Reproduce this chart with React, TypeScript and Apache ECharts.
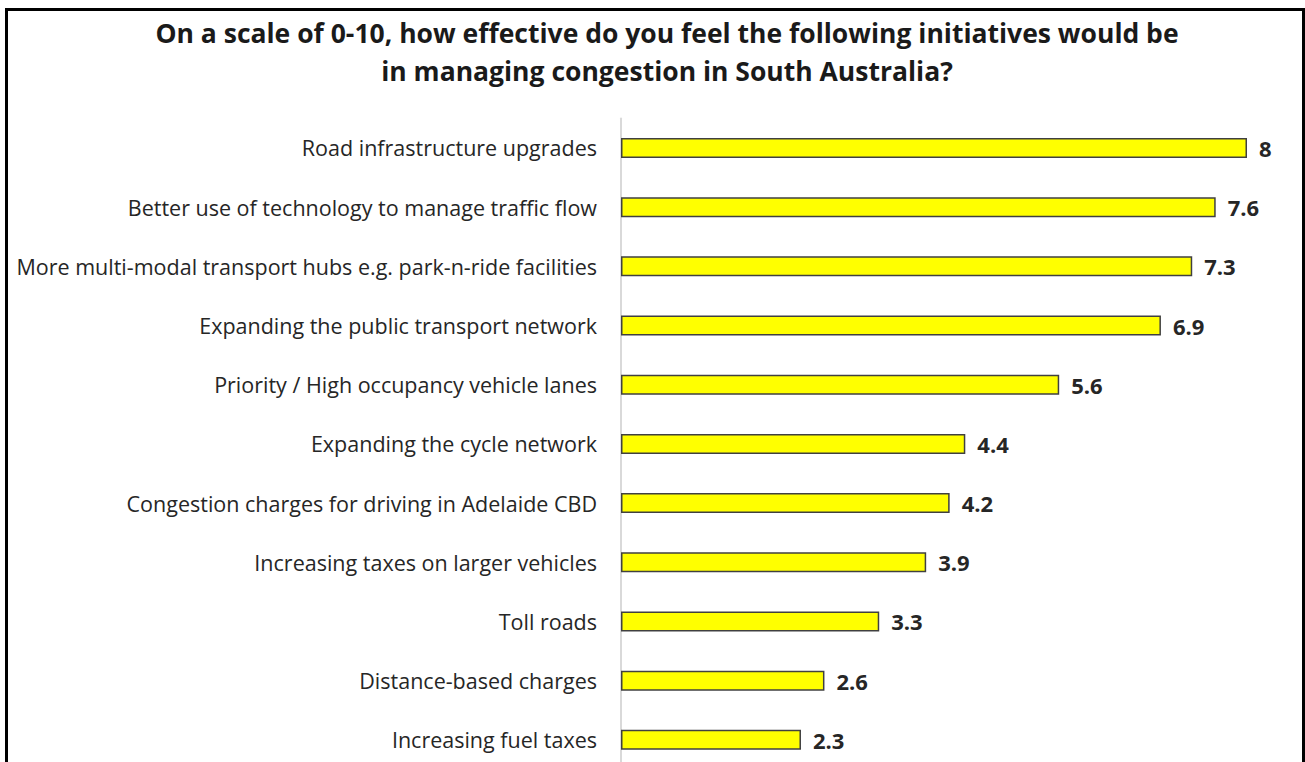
import React, { useEffect, useRef } from "react";
import * as echarts from "echarts";

const titleText =
  "On a scale of 0-10, how effective do you feel the following initiatives would be\nin managing congestion in South Australia?";

const categories = [
  "Road infrastructure upgrades",
  "Better use of technology to manage traffic flow",
  "More multi-modal transport hubs e.g. park-n-ride facilities",
  "Expanding the public transport network",
  "Priority / High occupancy vehicle lanes",
  "Expanding the cycle network",
  "Congestion charges for driving in Adelaide CBD",
  "Increasing taxes on larger vehicles",
  "Toll roads",
  "Distance-based charges",
  "Increasing fuel taxes",
];

const values = [8, 7.6, 7.3, 6.9, 5.6, 4.4, 4.2, 3.9, 3.3, 2.6, 2.3];

const FONT = "'Open Sans', sans-serif";

export default function App() {
  const ref = useRef<HTMLDivElement>(null);
  useEffect(() => {
    if (!ref.current) return;
    const chart = echarts.init(ref.current, undefined, { renderer: "svg" });
    chart.setOption({
      animation: false,
      backgroundColor: "#ffffff",
      title: {
        text: titleText,
        left: 662,
        textAlign: "center",
        top: 9,
        textStyle: {
          fontFamily: FONT,
          fontWeight: "bold",
          fontSize: 26.5,
          lineHeight: 38,
          color: "#1a1a1a",
        },
      },
      graphic: [
        {
          type: "rect",
          shape: { x: 6.5, y: 9.5, width: 1297, height: 900 },
          style: { fill: "none", stroke: "#000000", lineWidth: 3 },
          silent: true,
          z: 100,
        },
      ],
      grid: { left: 621, right: 58, top: 118.4, height: 651 },
      xAxis: {
        type: "value",
        min: 0,
        max: 8,
        show: false,
      },
      yAxis: {
        type: "category",
        data: categories,
        inverse: true,
        axisLine: { show: true, lineStyle: { color: "#d9d9d9", width: 2 } },
        axisTick: { show: false },
        axisLabel: {
          margin: 24,
          fontFamily: FONT,
          fontSize: 21.5,
          color: "#262626",
        },
      },
      series: [
        {
          type: "bar",
          data: values,
          barWidth: 20,
          itemStyle: { color: "#ffff00", borderColor: "#404040", borderWidth: 1.5 },
          label: {
            show: true,
            position: "right",
            distance: 12,
            fontFamily: FONT,
            fontWeight: "bold",
            fontSize: 22,
            color: "#262626",
          },
        },
      ],
    });
    return () => chart.dispose();
  }, []);
  return (
    <div
      ref={ref}
      style={{ position: "fixed", left: 0, top: 0, width: 1305, height: 790 }}
    />
  );
}
